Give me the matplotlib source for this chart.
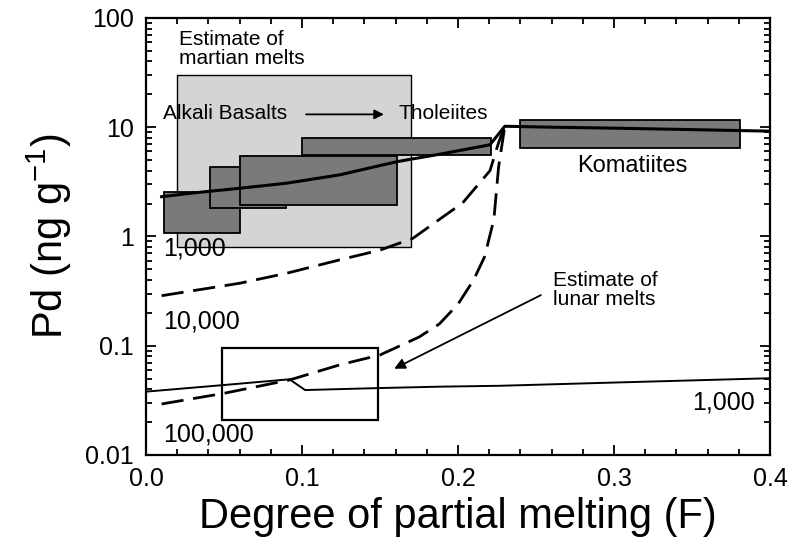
import matplotlib
matplotlib.use('Agg')
import matplotlib.pyplot as plt
from matplotlib.patches import Rectangle
from matplotlib.ticker import MultipleLocator, LogLocator, NullFormatter, FixedLocator, FixedFormatter

plt.rcParams['font.family'] = ['Liberation Sans', 'DejaVu Sans']
plt.rcParams['mathtext.default'] = 'regular'

# martian melts, 1,000 (solid)
mars_1k_x = [0.01, 0.03, 0.06, 0.09, 0.124, 0.161, 0.188, 0.2205, 0.23, 0.26, 0.30, 0.35, 0.40]
mars_1k_y = [2.31, 2.5, 2.76, 3.07, 3.66, 4.84, 5.65, 6.9, 10.2, 10.0, 9.8, 9.5, 9.2]
# 10,000 (dashed)
mars_10k_x = [0.01, 0.06, 0.09, 0.124, 0.15, 0.171, 0.188, 0.203, 0.2205, 0.226, 0.23]
mars_10k_y = [0.287, 0.373, 0.46, 0.61, 0.75, 0.96, 1.43, 2.03, 4.0, 7.2, 10.2]
# 100,000 (dashed)
mars_100k_x = [0.01, 0.05, 0.092, 0.124, 0.15, 0.175, 0.188, 0.2, 0.21, 0.217, 0.223, 0.226, 0.23]
mars_100k_y = [0.0293, 0.0367, 0.0486, 0.0667, 0.0823, 0.12, 0.158, 0.24, 0.4, 0.65, 1.43, 4.3, 10.2]
# lunar 1,000 (thin solid)
lunar_x = [0.0, 0.05, 0.092, 0.102, 0.15, 0.188, 0.227, 0.297, 0.40]
lunar_y = [0.038, 0.0437, 0.0493, 0.0393, 0.041, 0.0422, 0.043, 0.0459, 0.0504]

# boxes: (x0, x1, y0, y1)
martian_box = (0.02, 0.17, 0.8, 30)
lunar_box = (0.049, 0.149, 0.021, 0.095)
basalt_boxes = [
    (0.0115, 0.0603, 1.08, 2.57),
    (0.041, 0.0897, 1.81, 4.35),
    (0.0603, 0.1607, 1.94, 5.5),
    (0.0998, 0.2212, 5.57, 8.02),
]
komatiite_box = (0.2397, 0.381, 6.5, 11.6)

xticks = [0.0, 0.1, 0.2, 0.3, 0.4]
xtick_labels = ['0.0', '0.1', '0.2', '0.3', '0.4']
yticks = [0.01, 0.1, 1, 10, 100]
ytick_labels = ['0.01', '0.1', '1', '10', '100']

fig = plt.figure(figsize=(8, 5.6), dpi=100)
ax = fig.add_axes([0.1825, 0.1875, 0.78, 0.7805])
ax.set_yscale('log')
ax.set_xlim(0, 0.4)
ax.set_ylim(0.01, 100)

def box(b, fc, z, lw=1.3):
    ax.add_patch(Rectangle((b[0], b[2]), b[1] - b[0], b[3] - b[2],
                           facecolor=fc, edgecolor='black', linewidth=lw, zorder=z))

box(martian_box, '#d4d4d4', 1, 1.0)
for b in basalt_boxes:
    box(b, '#7a7a7a', 2)
box(komatiite_box, '#7a7a7a', 2)
box(lunar_box, 'none', 3, 1.6)

ax.plot(mars_1k_x, mars_1k_y, color='black', lw=2.2, zorder=4)
ax.plot(mars_10k_x, mars_10k_y, color='black', lw=2.0, dashes=(8, 3.5), zorder=4)
ax.plot(mars_100k_x, mars_100k_y, color='black', lw=2.0, dashes=(8, 3.5), zorder=4)
ax.plot(lunar_x, lunar_y, color='black', lw=1.4, zorder=4)

ax.text(0.021, 52, 'Estimate of\nmartian melts', fontsize=15, va='center', ha='left', linespacing=1.05)
ax.text(0.0107, 13.3, 'Alkali Basalts', fontsize=15, va='center', ha='left', zorder=5)
ax.annotate('', xy=(0.1543, 13.1), xytext=(0.1008, 13.1),
            arrowprops=dict(arrowstyle='-|>', color='black', lw=1.3, mutation_scale=14))
ax.text(0.1617, 13.3, 'Tholeiites', fontsize=15, va='center', ha='left')
ax.text(0.312, 4.45, 'Komatiites', fontsize=17, va='center', ha='center')
ax.text(0.261, 0.324, 'Estimate of\nlunar melts', fontsize=15, va='center', ha='left', linespacing=1.05)
ax.annotate('', xy=(0.1575, 0.060), xytext=(0.2547, 0.298),
            arrowprops=dict(arrowstyle='-|>', color='black', lw=1.3, mutation_scale=16))

ax.text(0.0107, 0.78, '1,000', fontsize=18, va='center', ha='left', zorder=5)
ax.text(0.0107, 0.166, '10,000', fontsize=18, va='center', ha='left')
ax.text(0.0107, 0.0155, '100,000', fontsize=18, va='center', ha='left')
ax.text(0.390, 0.030, '1,000', fontsize=18, va='center', ha='right')

ax.xaxis.set_major_locator(FixedLocator(xticks))
ax.xaxis.set_major_formatter(FixedFormatter(xtick_labels))
ax.xaxis.set_minor_locator(MultipleLocator(0.02))
ax.yaxis.set_major_locator(FixedLocator(yticks))
ax.yaxis.set_major_formatter(FixedFormatter(ytick_labels))
ax.yaxis.set_minor_locator(LogLocator(base=10, subs=range(2, 10)))
ax.yaxis.set_minor_formatter(NullFormatter())

ax.tick_params(which='both', direction='in', top=True, right=True, width=1.3, labelsize=18)
ax.tick_params(which='major', length=7, pad=9)
ax.tick_params(which='minor', length=4)
for s in ax.spines.values():
    s.set_linewidth(1.6)

ax.set_xlabel('Degree of partial melting (F)', fontsize=30, labelpad=4)
ax.set_ylabel('Pd (ng g$^{-1}$)', fontsize=30, labelpad=8)

fig.savefig('out.png', dpi=100)
